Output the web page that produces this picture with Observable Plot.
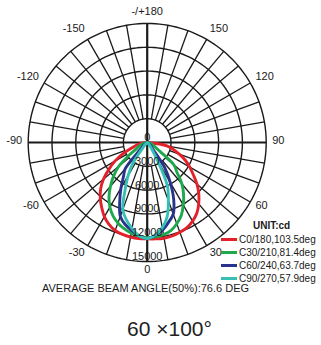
<!DOCTYPE html>
<html><head><meta charset="utf-8">
<script src="https://cdn.jsdelivr.net/npm/d3@7"></script>
<script src="https://cdn.jsdelivr.net/npm/@observablehq/plot@0.6"></script>
<style>
body{margin:0;background:#fff;font-family:Arial,"Liberation Sans",Helvetica,sans-serif;color:#1a1a1a;}
#wrap{position:relative;width:321px;height:345px;overflow:hidden;background:#fff;}
#wrap svg{position:absolute;left:0;top:0;}
#legend{position:absolute;left:221px;top:219px;font-size:10px;line-height:13px;}
#legend .unit{font-weight:bold;margin-left:32px;line-height:14px;}
#legend .row{display:flex;align-items:center;height:13px;white-space:nowrap;}
#legend .sw{display:inline-block;width:16px;height:3.5px;margin-right:2px;}
#avg{position:absolute;left:42px;top:282px;font-size:11px;white-space:nowrap;}
#title{position:absolute;left:127px;top:317px;font-size:21px;white-space:nowrap;color:#222;}
</style></head><body>
<div id="wrap"></div>
<script>
// ---- data ----
const gamma = [-90,-80,-70,-65,-60,-55,-50,-45,-40,-35,-30,-25,-20,-15,-10,-5,0,5,10,15,20,25,30,35,40,45,50,55,60,65,70,80,90];
const seriesNames = ["C0/180,103.5deg","C30/210,81.4deg","C60/240,63.7deg","C90/270,57.9deg"];
const seriesColors = ["#e4202a","#1ea84c","#28338c","#36bfb4"];
const c0   = [0,1000,2200,3400,4700,5900,7200,8300,9200,10000,10800,11400,11800,12000,12100,12150,12150,12200,12250,12200,12050,11850,11450,10900,10100,9200,8200,7100,6200,5300,4300,2600,0];
const c30  = [0,300,800,1200,1600,2800,4700,6000,7200,8400,9400,10200,10800,11250,11600,11850,12000,11950,11800,11500,10900,10150,9100,8000,6800,5300,4400,2000,1200,900,600,200,0];
const c60  = [0,50,100,150,200,400,700,1200,4300,5200,6600,8200,9900,10700,11250,11800,12100,11750,11200,10400,9600,7900,5800,3800,1200,700,400,250,150,100,80,30,0];
const c90  = [0,30,60,80,100,150,200,400,800,3000,4800,6600,9000,10100,11000,11800,12100,11700,10900,9700,7800,6000,2500,1000,500,300,200,120,80,60,50,20,0];
const seriesValues = [c0, c30, c60, c90];
const ringValues = [3000,6000,9000,12000,15000];
const ringLabels = ["0","3000","6000","9000","12000","15000"];
const ringLabelValues = [0,3000,6000,9000,12000,15000];
const angleTicks = [-150,-120,-90,-60,-30,0,30,60,90,120,150,180];
const angleLabels = ["-150","-120","-90","-60","-30","0","30","60","90","120","150","-/+180"];
const unitText = "UNIT:cd";
const avgText = "AVERAGE BEAM ANGLE(50%):76.6 DEG";
const titleText = "60 \u00d7100\u00b0";

// ---- layout ----
const W = 321, H = 300;
const cx = 146.7, cy = 142, rPx = 119, maxI = 15000;
const k = maxI / rPx;
const rad = d => d * Math.PI / 180;
const px = (a, v) => v * Math.sin(rad(a));
const py = (a, v) => -v * Math.cos(rad(a));

const rows = [];
seriesNames.forEach((s, i) => gamma.forEach((g, j) => rows.push({series: s, a: g, v: seriesValues[i][j]})));

const ringPts = [];
ringValues.forEach(v => { for (let a = 0; a <= 360; a += 2) ringPts.push({ring: v, a, v}); });

const spokes = [];
for (let a = 0; a < 360; a += 10) if (a % 90 !== 0) spokes.push({a, v1: ringValues[0], v2: maxI});
const axes = [{a: 0}, {a: 90}];

const labelRx = 125 * k, labelRy = 129 * k;
const angleRows = angleTicks.map((a, i) => ({a, label: angleLabels[i]}));
const side = a => (a === 0 || a === 180) ? "mid" : (a < 0 ? "left" : "right");
const lx = d => labelRx * Math.sin(rad(d.a));
const ly = d => -labelRy * Math.cos(rad(d.a));

const chart = Plot.plot({
  width: W, height: H, margin: 0,
  x: {domain: [-cx * k, (W - cx) * k], axis: null},
  y: {domain: [-(H - cy) * k, cy * k], axis: null},
  color: {domain: seriesNames, range: seriesColors},
  style: {fontFamily: "Arial, 'Liberation Sans', Helvetica, sans-serif", background: "transparent"},
  marks: [
    Plot.line(ringPts, {x: d => px(d.a, d.v), y: d => py(d.a, d.v), z: "ring", stroke: "#1a1a1a", strokeWidth: 1.4}),
    Plot.link(spokes, {x1: d => px(d.a, d.v1), y1: d => py(d.a, d.v1), x2: d => px(d.a, d.v2), y2: d => py(d.a, d.v2), stroke: "#1a1a1a", strokeWidth: 1.3}),
    Plot.link(axes, {x1: d => px(d.a, maxI), y1: d => py(d.a, maxI), x2: d => px(d.a + 180, maxI), y2: d => py(d.a + 180, maxI), stroke: "#1a1a1a", strokeWidth: 2.2}),
    Plot.line(rows, {x: d => px(d.a, d.v), y: d => py(d.a, d.v), z: "series", stroke: "series", strokeWidth: 2.9, curve: "catmull-rom", strokeLinejoin: "round"}),
    Plot.text(ringLabelValues.map((v, i) => ({v, t: ringLabels[i]})), {x: 0, y: d => -d.v, text: "t", dy: -5, fontSize: 11, fill: "#1a1a1a"}),
    Plot.text(angleRows.filter(d => side(d.a) === "left"), {x: lx, y: ly, text: "label", textAnchor: "end", dy: -2, fontSize: 11, fill: "#1a1a1a"}),
    Plot.text(angleRows.filter(d => side(d.a) === "right"), {x: lx, y: ly, text: "label", textAnchor: "start", dy: -2, fontSize: 11, fill: "#1a1a1a"}),
    Plot.text(angleRows.filter(d => side(d.a) === "mid"), {x: lx, y: ly, text: "label", textAnchor: "middle", dy: -2, fontSize: 11, fill: "#1a1a1a"})
  ]
});
const wrap = document.getElementById("wrap");
wrap.appendChild(chart);

const legend = document.createElement("div");
legend.id = "legend";
const unit = document.createElement("div");
unit.className = "unit"; unit.textContent = unitText;
legend.appendChild(unit);
seriesNames.forEach((s, i) => {
  const r = document.createElement("div"); r.className = "row";
  const sw = document.createElement("span"); sw.className = "sw"; sw.style.background = seriesColors[i];
  const t = document.createElement("span"); t.textContent = s;
  r.appendChild(sw); r.appendChild(t); legend.appendChild(r);
});
wrap.appendChild(legend);

const avg = document.createElement("div"); avg.id = "avg"; avg.textContent = avgText; wrap.appendChild(avg);
const title = document.createElement("div"); title.id = "title"; title.textContent = titleText; wrap.appendChild(title);
</script>
</body></html>
